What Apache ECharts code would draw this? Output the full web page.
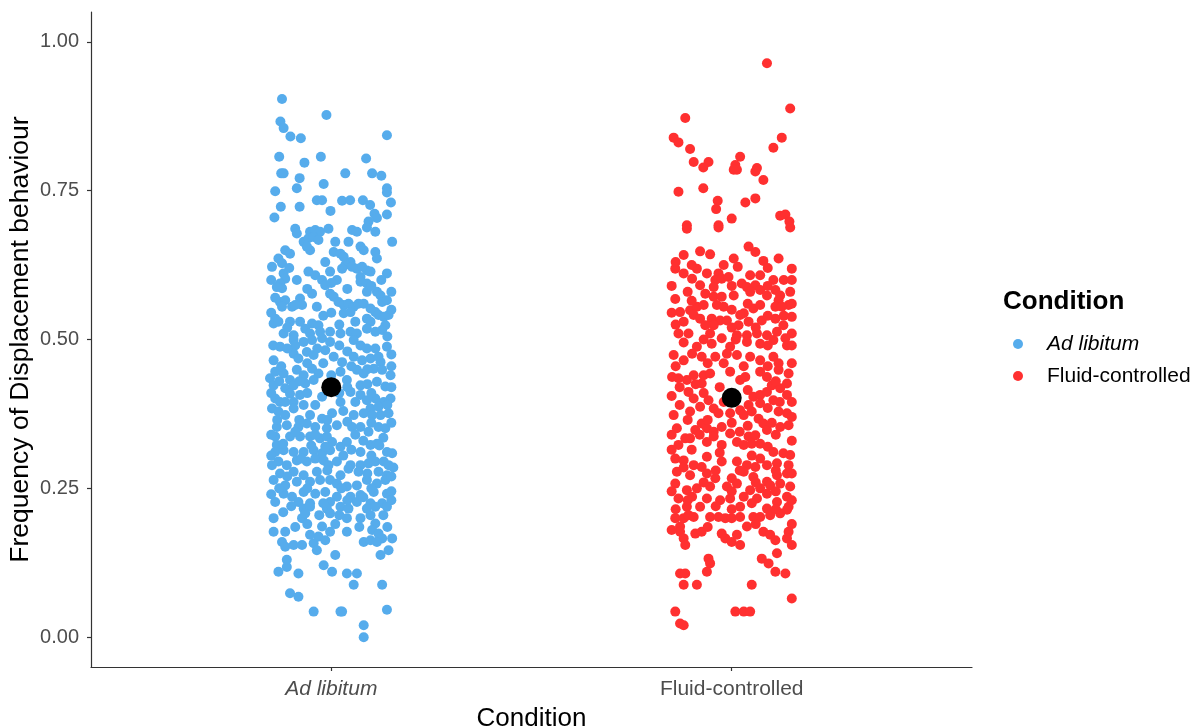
<!DOCTYPE html>
<html>
<head>
<meta charset="utf-8">
<script src="https://cdn.jsdelivr.net/npm/echarts@6/dist/echarts.min.js"></script>
<style>
  html, body { margin: 0; padding: 0; background: #ffffff; overflow: hidden; }
  #chart { width: 1195px; height: 726px; }
</style>
</head>
<body>
<div id="chart"></div>
<script>
// Conditions on the x axis (discrete positions 1 and 2)
const categories = ['Ad libitum', 'Fluid-controlled'];
const yTicks = [0, 0.25, 0.5, 0.75, 1.0];

// Per-session observations: [horizontal jitter offset, frequency]
const adLibitumObs = [
  [-0.123,0.904],[-0.012,0.877],[-0.127,0.866],[-0.119,0.855],[-0.102,0.841],[-0.076,0.838],[0.139,0.843],
  [-0.130,0.807],[-0.026,0.807],[0.087,0.804],[-0.067,0.797],[-0.125,0.779],[-0.119,0.779],[0.035,0.779],
  [0.102,0.779],[0.125,0.775],[-0.079,0.771],[-0.019,0.761],[-0.086,0.754],[0.139,0.754],[0.139,0.747],
  [-0.140,0.749],[-0.036,0.734],[-0.023,0.734],[0.027,0.733],[0.047,0.734],[0.079,0.734],[0.097,0.726],
  [0.149,0.730],[-0.126,0.723],[-0.079,0.723],[-0.002,0.716],[0.108,0.711],[0.114,0.704],[0.139,0.710],
  [-0.142,0.705],[0.093,0.698],
  [-0.090,0.686],[-0.086,0.678],[-0.053,0.681],[-0.040,0.684],[-0.028,0.681],[-0.007,0.686],[0.052,0.684],
  [0.064,0.681],[0.089,0.688],[0.110,0.681],[-0.069,0.664],[-0.057,0.670],[-0.044,0.672],[-0.032,0.667],
  [0.010,0.664],[0.043,0.664],[0.073,0.656],[0.081,0.650],[0.152,0.664],[0.110,0.647],[-0.115,0.650],
  [-0.103,0.644],[-0.053,0.650],[-0.061,0.656],[0.006,0.647],[0.023,0.644],[0.031,0.639],[0.114,0.636],
  [-0.132,0.636],[-0.123,0.628],[-0.148,0.622],[0.048,0.630],[0.035,0.625],[0.052,0.622],[0.064,0.619],
  [0.077,0.622],[0.089,0.616],[0.098,0.614],[0.027,0.619],[-0.003,0.614],[-0.119,0.611],[-0.115,0.602],
  [-0.128,0.594],[-0.057,0.614],[-0.040,0.608],[-0.023,0.600],[-0.086,0.600],[0.014,0.600],[0.073,0.605],
  [0.139,0.611],[-0.123,0.586],[-0.136,0.588],[-0.015,0.591],[0.073,0.597],[0.089,0.594],[-0.048,0.577],
  [-0.003,0.577],[0.006,0.572],[0.089,0.580],[0.114,0.580],[0.123,0.574],[-0.128,0.563],[-0.115,0.566],
  [-0.098,0.555],[-0.078,0.569],[-0.073,0.558],[-0.090,0.558],[-0.036,0.555],[0.018,0.563],[0.031,0.558],
  [0.043,0.560],[0.056,0.555],[0.068,0.560],[0.081,0.560],[0.127,0.563],[0.139,0.566],[-0.123,0.555],
  [0.031,0.544],[0.048,0.546],[0.098,0.552],[0.110,0.546],[0.118,0.541],[0.131,0.538],[0.143,0.541],
  [-0.140,0.535],[-0.144,0.527],[-0.132,0.530],[-0.103,0.530],[-0.078,0.530],[-0.048,0.527],[-0.032,0.524],
  [-0.065,0.518],[0.089,0.535],[0.098,0.530],[0.135,0.524],[0.127,0.516],[-0.119,0.510],[-0.094,0.507],
  [-0.053,0.510],[-0.028,0.513],[-0.003,0.513],[0.023,0.510],[0.048,0.513],[0.064,0.510],[0.089,0.518],
  [0.110,0.513],[-0.128,0.488],[-0.094,0.499],[-0.090,0.490],[-0.069,0.496],[-0.048,0.499],[-0.023,0.502],
  [-0.003,0.496],[0.056,0.499],[0.073,0.490],[0.089,0.485],[0.139,0.488],[-0.144,0.465],[-0.094,0.476],
  [-0.082,0.468],[-0.061,0.479],[-0.044,0.474],[-0.015,0.482],[0.006,0.471],[0.027,0.462],[0.056,0.471],
  [0.077,0.465],[0.098,0.468],[0.118,0.471],[0.123,0.462],
  [-0.153,0.435],[-0.140,0.446],[-0.119,0.443],[-0.103,0.432],[-0.086,0.449],[-0.069,0.440],[-0.048,0.451],
  [-0.032,0.443],[0.023,0.446],[0.039,0.432],[0.064,0.449],[0.081,0.443],[0.106,0.451],[0.127,0.449],
  [0.073,0.423],[0.114,0.429],[0.135,0.421],[0.148,0.440],[-0.144,0.423],[-0.115,0.418],[-0.094,0.423],
  [-0.065,0.426],[-0.044,0.432],[-0.140,0.401],[-0.128,0.395],[-0.103,0.409],[-0.094,0.395],[-0.078,0.407],
  [-0.023,0.404],[0.023,0.395],[0.048,0.412],[0.073,0.407],[0.089,0.398],[0.110,0.401],[0.131,0.395],
  [0.148,0.401],[0.098,0.384],[0.118,0.387],[-0.148,0.384],[-0.132,0.379],[-0.115,0.373],[-0.094,0.384],
  [-0.069,0.390],[-0.053,0.373],[-0.023,0.367],[0.002,0.376],[0.056,0.373],[0.081,0.376],[0.102,0.373],
  [0.123,0.373],[0.143,0.376],[-0.136,0.353],[-0.111,0.356],[-0.082,0.353],[-0.061,0.359],[-0.040,0.353],
  [-0.011,0.351],[0.014,0.356],[0.052,0.353],[0.073,0.353],[0.093,0.345],[0.118,0.353],[0.135,0.351],
  [-0.140,0.337],[-0.136,0.323],[-0.103,0.337],[-0.078,0.337],[-0.053,0.337],[-0.028,0.334],[-0.011,0.337],
  [0.002,0.328],[0.023,0.320],[0.039,0.328],[0.073,0.311],[0.098,0.323],[0.114,0.325],[0.139,0.311],
  [0.152,0.309],[-0.140,0.311],[-0.119,0.314],[-0.094,0.311],[-0.069,0.311],[-0.044,0.314],[-0.023,0.309],
  [-0.003,0.314],[-0.132,0.295],[-0.148,0.289],[-0.111,0.289],[-0.086,0.297],[-0.061,0.295],[-0.040,0.300],
  [-0.019,0.297],[-0.007,0.289],[0.014,0.295],[0.048,0.289],[0.073,0.289],[0.093,0.292],[0.110,0.295],
  [0.131,0.295],[0.143,0.289],[-0.128,0.275],[-0.094,0.278],[-0.069,0.272],[-0.036,0.278],[0.023,0.272],
  [0.043,0.283],[0.068,0.278],[0.118,0.278],[0.139,0.272],[-0.144,0.264],[-0.115,0.255],[-0.086,0.261],
  [-0.053,0.261],[-0.028,0.264],[-0.003,0.264],[0.014,0.258],[0.039,0.253],[0.064,0.255],[0.089,0.264],
  [0.114,0.258],[0.135,0.264],[-0.119,0.241],[-0.098,0.236],[-0.069,0.244],[-0.040,0.241],[-0.015,0.244],
  [0.014,0.236],[0.048,0.236],[0.073,0.239],[0.106,0.244],[0.139,0.241],[-0.140,0.227],[-0.082,0.227],
  [-0.053,0.225],[-0.003,0.227],[0.064,0.227],[0.098,0.225],[0.127,0.225],
  [-0.069,0.216],[-0.053,0.219],[-0.011,0.216],[0.023,0.219],[0.043,0.216],[0.089,0.216],[0.110,0.219],
  [0.139,0.219],[-0.144,0.200],[-0.073,0.200],[-0.065,0.208],[-0.003,0.208],[0.039,0.200],[0.073,0.200],
  [0.098,0.205],[0.110,0.191],[-0.144,0.177],[-0.115,0.177],[-0.023,0.186],[-0.003,0.177],[0.039,0.177],
  [0.102,0.180],[0.118,0.174],[-0.123,0.160],[-0.115,0.152],[-0.094,0.155],[-0.073,0.155],[-0.044,0.158],
  [-0.032,0.169],[-0.015,0.163],[-0.053,0.172],[0.127,0.166],[0.152,0.166],[0.081,0.160],[0.098,0.163],
  [0.114,0.160],[0.010,0.138],[0.123,0.138],[0.143,0.146],[-0.036,0.146],[-0.132,0.110],[-0.111,0.118],
  [-0.111,0.130],[-0.082,0.107],[-0.019,0.121],[0.002,0.110],[0.039,0.107],[0.064,0.107],[0.056,0.088],
  [0.127,0.088],[-0.103,0.074],[-0.082,0.068],[-0.044,0.043],[0.023,0.043],[0.027,0.043],[0.139,0.046],
  [0.081,0.020],[0.081,0.000],
  [-0.150,0.600],[-0.105,0.620],[-0.015,0.630],[0.000,0.595],[0.125,0.600],[0.150,0.580],[-0.140,0.570],
  [-0.060,0.585],[0.040,0.585],[0.100,0.590],[-0.150,0.545],[-0.020,0.540],[0.000,0.545],[0.060,0.530],
  [0.150,0.550],[-0.110,0.520],[0.020,0.525],[0.140,0.505],[-0.145,0.490],[-0.110,0.485],[-0.035,0.485],
  [0.020,0.490],[0.040,0.480],[0.110,0.485],[0.150,0.475],[-0.125,0.455],[-0.060,0.460],[-0.020,0.460],
  [0.050,0.455],[0.090,0.450],[0.150,0.455],[-0.130,0.430],[-0.080,0.430],[0.000,0.440],[0.040,0.420],
  [0.090,0.425],[0.150,0.420],[-0.150,0.410],[-0.060,0.410],[0.020,0.410],[0.060,0.395],[0.100,0.410],
  [-0.115,0.395],[-0.040,0.390],[0.030,0.380],[0.140,0.390],[-0.135,0.365],[-0.080,0.365],[-0.010,0.365],
  [0.040,0.362],[0.100,0.360],[0.150,0.360],[-0.150,0.340],[-0.090,0.345],[-0.040,0.340],[0.060,0.340],
  [0.080,0.330],[0.130,0.335],[-0.120,0.325],[-0.050,0.322],[-0.015,0.320],[0.050,0.315],[0.120,0.322],
  [-0.150,0.305],[-0.075,0.300],[0.030,0.305],[0.100,0.305],[0.155,0.285],[-0.110,0.270],[-0.010,0.280],
  [0.090,0.275],[0.150,0.270],[-0.130,0.250],[-0.060,0.250],[0.025,0.250],[0.100,0.250],[0.150,0.245],
  [-0.150,0.240],[-0.100,0.220],[-0.020,0.225],[0.040,0.230],[0.080,0.235],[0.150,0.230],[-0.120,0.210],
  [-0.030,0.205],[0.020,0.205],[0.130,0.205],[-0.090,0.185],[0.070,0.185],[0.140,0.185],[-0.060,0.190],
  [0.010,0.190]
];

const fluidObs = [
  [0.088,0.964],[0.146,0.888],[-0.116,0.872],[-0.145,0.839],[-0.133,0.831],[-0.104,0.820],[0.125,0.839],
  [0.104,0.822],[0.021,0.807],[-0.095,0.798],[-0.058,0.798],[-0.071,0.789],[0.009,0.793],[0.013,0.785],
  [0.005,0.785],[0.063,0.788],[0.059,0.782],[0.079,0.768],[-0.133,0.748],[-0.071,0.754],[-0.035,0.733],
  [-0.039,0.719],[0.034,0.730],[0.059,0.737],[0.000,0.703],[0.121,0.708],[0.134,0.710],[0.144,0.698],
  [-0.112,0.692],[-0.033,0.692],
  [-0.112,0.686],[-0.033,0.688],[0.146,0.688],[-0.120,0.642],[-0.079,0.648],[-0.054,0.643],[0.042,0.656],
  [0.059,0.647],[0.079,0.632],[0.117,0.636],[0.005,0.636],[0.015,0.622],[0.150,0.619],[-0.141,0.619],
  [-0.120,0.611],[-0.087,0.619],[-0.062,0.611],[-0.099,0.602],[-0.033,0.611],[-0.041,0.600],[-0.025,0.602],
  [-0.008,0.605],[0.046,0.608],[0.071,0.608],[0.104,0.600],[0.025,0.594],[0.038,0.588],[0.059,0.591],
  [0.071,0.583],[-0.079,0.591],[-0.045,0.588],[0.146,0.580],[0.109,0.583],[0.121,0.574],[-0.141,0.568],
  [-0.066,0.577],[-0.045,0.572],[-0.025,0.572],[0.005,0.574],[0.046,0.580],[0.088,0.574],[0.117,0.566],
  [0.142,0.558],[-0.129,0.546],[-0.104,0.549],[-0.087,0.555],[-0.070,0.558],[-0.037,0.558],[0.030,0.544],
  [0.054,0.552],[0.071,0.558],[0.109,0.555],[0.125,0.555],[-0.120,0.530],[-0.095,0.541],[-0.079,0.535],
  [-0.050,0.535],[-0.029,0.532],[-0.012,0.532],[0.021,0.541],[0.017,0.524],[0.042,0.530],[0.075,0.532],
  [0.109,0.535],[0.150,0.538],[0.129,0.524],[-0.045,0.524],[-0.066,0.524],[-0.133,0.510],[-0.108,0.510],
  [-0.054,0.510],[-0.025,0.502],[0.013,0.507],[0.038,0.507],[0.063,0.510],[0.088,0.507],[0.113,0.513],
  [0.150,0.510],[0.134,0.502],[-0.087,0.488],[-0.050,0.493],[-0.004,0.488],[0.038,0.496],[0.071,0.493],
  [0.104,0.499],[0.138,0.490],[-0.145,0.474],[-0.120,0.465],[-0.099,0.476],[-0.075,0.471],[-0.041,0.471],
  [-0.012,0.476],[0.013,0.474],[0.046,0.471],[0.071,0.465],[0.104,0.471],[0.117,0.460],
  [-0.149,0.437],[-0.133,0.435],[-0.112,0.432],[-0.095,0.440],[-0.070,0.440],[-0.054,0.443],[-0.075,0.426],
  [-0.004,0.446],[0.021,0.432],[0.034,0.437],[0.071,0.446],[0.088,0.437],[0.117,0.449],[0.142,0.443],
  [0.100,0.423],[0.121,0.418],[0.138,0.426],[-0.108,0.412],[-0.095,0.401],[-0.058,0.398],[0.054,0.404],
  [0.071,0.407],[0.088,0.412],[0.042,0.390],[0.071,0.393],[0.104,0.398],[0.138,0.407],[-0.145,0.373],
  [-0.104,0.379],[-0.079,0.387],[-0.045,0.384],[-0.033,0.376],[-0.004,0.376],[0.021,0.381],[0.030,0.373],
  [0.050,0.379],[0.067,0.367],[0.079,0.359],[0.117,0.379],[0.138,0.376],[-0.137,0.351],[-0.116,0.334],
  [-0.091,0.348],[-0.075,0.359],[-0.062,0.351],[-0.045,0.345],[-0.025,0.353],[-0.004,0.342],[0.013,0.328],
  [0.042,0.337],[0.059,0.339],[0.088,0.348],[0.121,0.353],[0.142,0.356],[-0.133,0.323],[-0.104,0.334],
  [-0.062,0.328],[-0.045,0.337],[-0.025,0.323],[0.030,0.323],[0.050,0.325],[0.071,0.325],[0.104,0.311],
  [0.129,0.309],[0.146,0.306],[-0.141,0.300],[-0.120,0.297],[-0.095,0.289],[-0.075,0.286],[-0.062,0.303],
  [-0.025,0.295],[0.013,0.295],[0.038,0.289],[0.059,0.286],[0.071,0.300],[0.088,0.289],[0.113,0.292],
  [0.142,0.289],[-0.137,0.278],[-0.104,0.272],[-0.062,0.275],[-0.041,0.267],[0.000,0.267],[0.030,0.278],
  [0.054,0.269],[0.088,0.261],[0.113,0.272],[0.138,0.275],[-0.141,0.258],[-0.112,0.247],[-0.087,0.250],
  [-0.054,0.253],[-0.012,0.253],[0.013,0.258],[0.046,0.247],[0.071,0.250],[0.096,0.255],[0.121,0.258],
  [0.146,0.253],[-0.133,0.233],[-0.099,0.236],[-0.062,0.233],[-0.029,0.230],[-0.004,0.233],[0.030,0.236],
  [0.063,0.233],[0.088,0.241],[0.113,0.227],[0.138,0.236],
  [-0.112,0.219],[-0.079,0.219],[0.021,0.219],[0.088,0.216],[0.142,0.219],[-0.141,0.200],[-0.120,0.200],
  [-0.108,0.205],[-0.095,0.202],[-0.054,0.202],[-0.033,0.202],[-0.016,0.200],[0.000,0.200],[0.021,0.202],
  [0.054,0.202],[0.071,0.202],[0.096,0.205],[0.121,0.208],[0.138,0.214],[-0.129,0.186],[-0.129,0.177],
  [-0.120,0.166],[-0.091,0.174],[-0.075,0.177],[-0.016,0.166],[0.000,0.160],[0.021,0.155],[-0.025,0.174],
  [0.013,0.172],[0.038,0.186],[0.079,0.177],[0.096,0.172],[0.109,0.163],[0.142,0.177],[0.138,0.166],
  [0.150,0.155],[0.113,0.141],[-0.116,0.155],[-0.058,0.132],[-0.054,0.124],[-0.062,0.110],[0.075,0.132],
  [0.092,0.124],[0.109,0.110],[0.134,0.107],[-0.129,0.107],[-0.116,0.107],[-0.120,0.088],[-0.087,0.088],
  [0.050,0.088],[0.150,0.065],[-0.141,0.043],[0.009,0.043],[0.030,0.043],[0.046,0.043],[-0.129,0.023],
  [-0.120,0.020],
  [-0.140,0.630],[-0.100,0.625],[-0.020,0.625],[0.090,0.620],[0.130,0.600],[-0.150,0.590],[-0.110,0.580],
  [0.000,0.590],[0.090,0.590],[0.150,0.600],[-0.100,0.565],[-0.020,0.555],[0.040,0.560],[0.150,0.560],
  [-0.150,0.545],[0.000,0.550],[0.090,0.540],[-0.140,0.525],[0.000,0.520],[0.060,0.520],[0.130,0.540],
  [-0.120,0.495],[-0.070,0.500],[0.010,0.500],[0.090,0.490],[0.150,0.490],[-0.140,0.455],[-0.060,0.460],
  [-0.020,0.460],[0.030,0.455],[0.090,0.455],[0.150,0.460],[-0.130,0.420],[-0.090,0.425],[-0.030,0.420],
  [0.040,0.415],[0.110,0.430],[-0.150,0.405],[-0.070,0.410],[0.010,0.405],[0.120,0.395],[0.150,0.395],
  [-0.130,0.390],[-0.020,0.395],[0.090,0.385],[-0.110,0.365],[-0.060,0.365],[0.000,0.360],[0.040,0.355],
  [0.100,0.360],[0.150,0.370],[-0.150,0.340],[-0.080,0.340],[0.020,0.345],[0.110,0.340],[0.150,0.330],
  [-0.100,0.315],[-0.030,0.310],[0.050,0.305],[0.090,0.320],[-0.150,0.315],[-0.120,0.285],[-0.040,0.280],
  [0.020,0.280],[0.110,0.280],[0.150,0.275],[-0.070,0.260],[0.060,0.260],[-0.150,0.245],[0.000,0.245],
  [0.110,0.245],[-0.110,0.230],[-0.040,0.220],[0.050,0.225],[0.150,0.230],[-0.140,0.215],[0.000,0.215],
  [0.110,0.215],[-0.060,0.185],[0.060,0.190],[-0.150,0.180],[0.150,0.190]
];

// Group means
const groupMeans = [0.420, 0.402];

const blue = '#56ACEC';
const red = '#FF3030';
const font = 'Liberation Sans, Arial, sans-serif';

function placed(obs, pos) {
  return obs.map(d => [pos + d[0], d[1]]);
}

const chart = echarts.init(document.getElementById('chart'), null, { renderer: 'canvas' });

chart.setOption({
  animation: false,
  backgroundColor: '#ffffff',
  textStyle: { fontFamily: font },
  grid: { left: 91, right: 223, top: 12, bottom: 59, containLabel: false, outerBoundsMode: 'none' },
  title: {
    text: 'Condition',
    left: 1003,
    top: 289,
    padding: 0,
    textStyle: { fontFamily: font, fontSize: 26, fontWeight: 'bold', color: '#000000' }
  },
  legend: {
    orient: 'vertical',
    left: 1013,
    top: 333,
    padding: 0,
    itemWidth: 10,
    itemHeight: 10,
    itemGap: 10,
    icon: 'circle',
    data: categories,
    formatter: name => name === 'Ad libitum' ? '{it|' + name + '}' : name,
    textStyle: {
      fontFamily: font, fontSize: 21, lineHeight: 22, color: '#000000', padding: [0, 0, 0, 19],
      rich: { it: { fontStyle: 'italic', fontSize: 21, lineHeight: 22, fontFamily: font, color: '#000000' } }
    }
  },
  xAxis: {
    type: 'value',
    min: 0.4,
    max: 2.6,
    name: 'Condition',
    nameLocation: 'middle',
    nameGap: 39,
    nameMoveOverlap: false,
    nameTextStyle: { fontFamily: font, fontSize: 26, color: '#000000' },
    splitLine: { show: false },
    axisLine: { show: true, onZero: false, lineStyle: { color: '#333333', width: 1.2 } },
    axisTick: { show: true, customValues: [1, 2], length: 4, lineStyle: { color: '#333333', width: 1.2 } },
    axisLabel: {
      customValues: [1, 2],
      margin: 12,
      formatter: v => {
        const name = categories[Math.round(v) - 1] || '';
        return name === 'Ad libitum' ? '{it|' + name + '}' : '{n|' + name + '}';
      },
      rich: {
        it: { fontStyle: 'italic', fontSize: 21, fontFamily: font, color: '#4D4D4D' },
        n: { fontSize: 21, fontFamily: font, color: '#4D4D4D' }
      }
    }
  },
  yAxis: {
    type: 'value',
    min: -0.05,
    max: 1.05,
    name: 'Frequency of Displacement behaviour',
    nameLocation: 'middle',
    nameGap: 57,
    nameMoveOverlap: false,
    nameTextStyle: { fontFamily: font, fontSize: 26.5, color: '#000000' },
    splitLine: { show: false },
    axisLine: { show: true, lineStyle: { color: '#333333', width: 1.2 } },
    axisTick: { show: true, customValues: yTicks, length: 4, lineStyle: { color: '#333333', width: 1.2 } },
    axisLabel: {
      customValues: yTicks,
      margin: 12,
      fontSize: 20,
      fontFamily: font,
      color: '#4D4D4D',
      formatter: v => v.toFixed(2)
    }
  },
  series: [
    {
      name: categories[0],
      type: 'scatter',
      symbol: 'circle',
      symbolSize: 10,
      itemStyle: { color: blue, opacity: 1 },
      data: placed(adLibitumObs, 1),
      z: 2
    },
    {
      name: categories[1],
      type: 'scatter',
      symbol: 'circle',
      symbolSize: 10,
      itemStyle: { color: red, opacity: 1 },
      data: placed(fluidObs, 2),
      z: 2
    },
    {
      name: 'mean',
      type: 'scatter',
      symbol: 'circle',
      symbolSize: 20,
      itemStyle: { color: '#000000', opacity: 1 },
      data: groupMeans.map((m, i) => [i + 1, m]),
      z: 5
    }
  ]
});
</script>
</body>
</html>
